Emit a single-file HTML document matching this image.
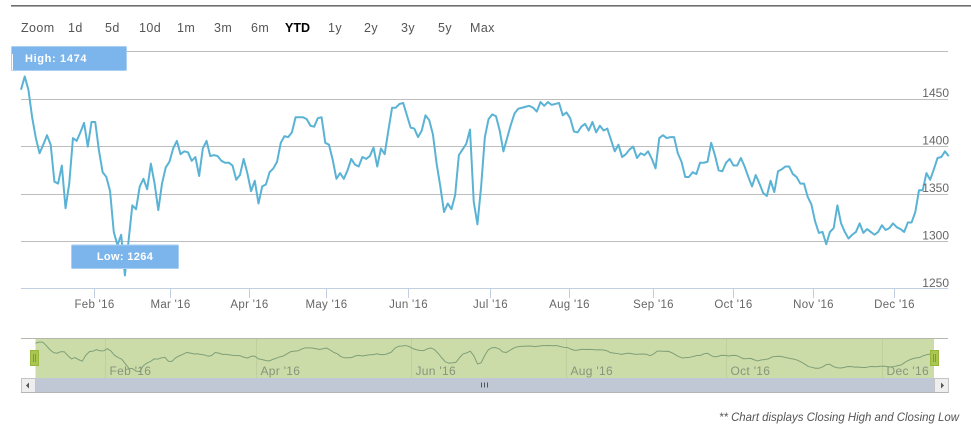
<!DOCTYPE html>
<html>
<head>
<meta charset="utf-8">
<title>Closing price chart</title>
<style>
html,body{margin:0;padding:0;background:#fff;width:971px;height:426px;overflow:hidden}
svg{display:block;font-family:"Liberation Sans",sans-serif}
.btn{font-size:12.5px;fill:#555;letter-spacing:.4px;cursor:pointer}
.axl{font-size:11.5px;fill:#666;letter-spacing:.3px}
.ylab{font-size:12px;fill:#666;letter-spacing:0}
.nvl{font-size:12px;fill:#87947c;letter-spacing:.3px}
</style>
</head>
<body>
<svg id="chart" xmlns="http://www.w3.org/2000/svg" width="971" height="426" viewBox="0 0 971 426">
  <rect x="11" y="5" width="960" height="1.6" fill="#6e6e6e"/>
  <g>
    <text class="btn" x="21" y="32">Zoom</text>
    <text class="btn" x="68" y="32">1d</text>
    <text class="btn" x="105" y="32">5d</text>
    <text class="btn" x="139" y="32">10d</text>
    <text class="btn" x="177" y="32">1m</text>
    <text class="btn" x="214" y="32">3m</text>
    <text class="btn" x="251" y="32">6m</text>
    <text class="btn" x="285" y="32" style="font-weight:bold;fill:#000;letter-spacing:0">YTD</text>
    <text class="btn" x="328" y="32">1y</text>
    <text class="btn" x="364" y="32">2y</text>
    <text class="btn" x="401" y="32">3y</text>
    <text class="btn" x="438" y="32">5y</text>
    <text class="btn" x="470" y="32">Max</text>
  </g>
  <g id="grid"></g>
  <g id="xaxis"></g>
  <g id="series"></g>
  <g id="ylabels"></g>
  <g id="flags"></g>
  <g id="navigator"></g>
  <g>
    <rect x="35" y="378" width="899" height="14" fill="#bfc8d4"/>
    <rect x="21.5" y="378.5" width="14" height="14" fill="#eeeeee" stroke="#c4c4c4"/>
    <path d="M26 385.5l3-3v6z" fill="#555"/>
    <rect x="934.5" y="378.5" width="14" height="14" fill="#eeeeee" stroke="#c4c4c4"/>
    <path d="M944 385.5l-3-3v6z" fill="#555"/>
    <path d="M481.5 382.5v5M484.5 382.5v5M487.5 382.5v5" stroke="#555" stroke-width="1"/>
    <line x1="21" x2="948" y1="392.5" y2="392.5" stroke="#b5b5b5"/>
  </g>
  <text x="959" y="421" text-anchor="end" textLength="240" lengthAdjust="spacingAndGlyphs" style="font-size:12px;font-style:italic;fill:#555">** Chart displays Closing High and Closing Low</text>
</svg>
<script>
const values = [1460,1474,1460,1431,1409,1393,1402,1412,1402,1363,1361,1380,1335,1361,1409,1406,1415,1425,1400,1426,1426,1396,1373,1368,1353,1310,1296,1307,1264,1301,1338,1334,1358,1366,1355,1382,1361,1333,1361,1378,1384,1398,1406,1392,1395,1394,1385,1389,1369,1398,1406,1390,1391,1390,1385,1383,1383,1380,1365,1370,1387,1372,1353,1364,1340,1358,1360,1373,1377,1384,1404,1411,1410,1415,1431,1431,1431,1429,1422,1421,1430,1431,1404,1402,1386,1366,1372,1366,1375,1387,1381,1379,1389,1387,1390,1399,1379,1398,1392,1417,1441,1441,1445,1446,1433,1420,1419,1410,1417,1433,1428,1413,1382,1358,1331,1340,1334,1349,1391,1397,1403,1418,1342,1318,1358,1410,1429,1434,1432,1417,1395,1409,1423,1435,1440,1441,1442,1443,1441,1437,1447,1443,1447,1444,1445,1446,1433,1436,1430,1416,1415,1421,1424,1417,1426,1415,1422,1417,1419,1407,1395,1402,1389,1392,1397,1400,1388,1393,1391,1395,1387,1377,1409,1412,1409,1410,1410,1393,1384,1368,1368,1373,1371,1383,1383,1384,1404,1391,1375,1374,1383,1387,1380,1380,1388,1379,1368,1358,1370,1361,1351,1348,1364,1352,1374,1376,1379,1379,1371,1368,1361,1361,1347,1339,1321,1309,1310,1297,1310,1314,1338,1319,1310,1303,1307,1310,1319,1309,1313,1310,1307,1310,1317,1312,1314,1319,1315,1313,1310,1320,1320,1331,1354,1354,1372,1365,1376,1388,1389,1395,1390];
const gridTicks = [1250,1300,1350,1400,1450,1500];
const yTickLabels = [1250,1300,1350,1400,1450];
const monthLabels = ["Feb '16","Mar '16","Apr '16","May '16","Jun '16","Jul '16","Aug '16","Sep '16","Oct '16","Nov '16","Dec '16"];
const monthStartIndex = [19.8,40.2,61.5,82.2,104.4,126.5,147.8,170.4,192,213.5,235.4];
const navMonthLabels = ["Feb '16","Apr '16","Jun '16","Aug '16","Oct '16","Dec '16"];
const navMonthIndex = [19.6,61.5,104.6,147.8,192.2,235.6];
const highValue = 1474;
const lowValue = 1264;

const NS = 'http://www.w3.org/2000/svg';
function make(tag, parent, attrs, txt) {
  const el = document.createElementNS(NS, tag);
  for (const k in attrs) el.setAttribute(k, attrs[k]);
  if (txt !== undefined) el.textContent = txt;
  parent.appendChild(el);
  return el;
}
const xLeft = 21, xRight = 948.7;
function xMain(i) { return xLeft + i * (xRight - xLeft) / (values.length - 1); }
function yMain(v) { return 288.8 - (v - 1250) * 0.948; }
const navL = 35.5, navR = 934;
function xNav(i) { return navL + i * (navR - navL) / (values.length - 1); }
function yNav(v) { return 341 + (1474 - v) * 0.16; }
function crisp(p) { return Math.floor(p) + 0.5; }
function linePath(xf, yf) {
  return values.map(function (v, i) { return (i ? 'L' : 'M') + xf(i).toFixed(2) + ' ' + yf(v).toFixed(2); }).join('');
}
/* The overview line is drawn through a two-day average of the same values, which keeps it smooth. */
function navPath() {
  return values.map(function (v, i) {
    const prev = i ? values[i - 1] : v;
    return (i ? 'L' : 'M') + xNav(i).toFixed(2) + ' ' + yNav((v + prev) / 2).toFixed(2);
  }).join('');
}

const grid = document.getElementById('grid');
gridTicks.forEach(function (t) {
  const y = crisp(yMain(t));
  const ln = make('line', grid, {x1: 21, x2: 948, y1: y, y2: y, stroke: t === 1250 ? '#c0d0e0' : '#bdbdbd', 'stroke-width': 1});
  
  
});

const xaxis = document.getElementById('xaxis');
monthLabels.forEach(function (m, k) {
  const x = crisp(xMain(monthStartIndex[k]));
  const tick = make('line', xaxis, {x1: x, x2: x, y1: 289, y2: 298, stroke: '#c0d0e0'});
  
  
  const lbl = make('text', xaxis, {x: x, y: 308, 'text-anchor': 'middle', class: 'axl'}, m);
  
  
});

const series = document.getElementById('series');
const mainLine = make('path', series, {d: linePath(xMain, yMain), fill: 'none', stroke: '#5ab3d5', 'stroke-width': 2, 'stroke-linejoin': 'round'});



const ylabels = document.getElementById('ylabels');
yTickLabels.forEach(function (t) {
  const lbl = make('text', ylabels, {x: 949, y: yMain(t) - 2, 'text-anchor': 'end', class: 'ylab'}, String(t));
  
  
});

const flags = document.getElementById('flags');
const hiRect = make('rect', flags, {x: 11.5, y: 46.5, width: 115, height: 24, rx: 1, fill: '#7cb5ec', stroke: '#a9cff2'});


const hiStem = make('line', flags, {x1: 12.5, x2: 12.5, y1: 54, y2: 70, stroke: '#ffffff'});


const hiText = make('text', flags, {x: 25, y: 62, style: 'font-size:11px;font-weight:bold;fill:#fff;letter-spacing:.65px'}, 'High: ' + highValue);


const loRect = make('rect', flags, {x: 71.5, y: 245, width: 107, height: 23.5, rx: 1, fill: '#7cb5ec', stroke: '#a9cff2'});


const loText = make('text', flags, {x: 125, y: 260, 'text-anchor': 'middle', style: 'font-size:11px;font-weight:bold;fill:#fff;letter-spacing:.35px'}, 'Low: ' + lowValue);



const nav = document.getElementById('navigator');
const navBg = make('rect', nav, {x: 35.5, y: 338, width: 898.5, height: 40, fill: '#cbdca8'});


const navTop = make('line', nav, {x1: 21, x2: 948, y1: 338.5, y2: 338.5, stroke: '#b4b7ab'});


navMonthLabels.forEach(function (m, k) {
  const x = crisp(xNav(navMonthIndex[k]));
  const tick = make('line', nav, {x1: x, x2: x, y1: 339, y2: 378, stroke: '#bfd09e'});
  
  
  const lbl = make('text', nav, {x: x + 4, y: 375, class: 'nvl'}, m);
  
  
});
const navLine = make('path', nav, {d: navPath(), fill: 'none', stroke: '#7f9f78', 'stroke-width': 1, 'stroke-linejoin': 'round'});


[30.5, 930.5].forEach(function (hx) {
  const h = make('rect', nav, {x: hx, y: 350.5, width: 8, height: 15, fill: '#a9c653', stroke: '#97b83a'});
  
  
  const g = make('path', nav, {d: 'M' + (hx + 3) + ' 354v8M' + (hx + 5) + ' 354v8', stroke: '#7d9a45', 'stroke-width': 1, fill: 'none'});
  
  
});
</script>
</body>
</html>
